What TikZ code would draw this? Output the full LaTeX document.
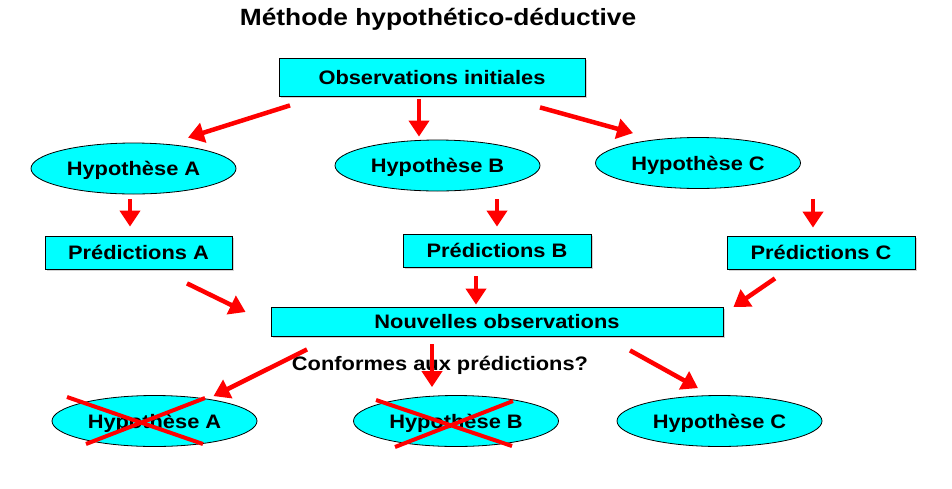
\documentclass[tikz,border=0pt]{standalone}
\usepackage{fontspec}
\setmainfont{Liberation Sans}[FakeStretch=1.12]
\usetikzlibrary{arrows.meta}
\usetikzlibrary{calc}
\usetikzlibrary{shapes.geometric}
\usetikzlibrary{shadows}

\definecolor{aquafill}{RGB}{0,255,255}

\tikzset{
  labeltext/.style={inner sep=0pt, text height=14pt, text depth=0pt,
    font=\fontsize{19.5}{23}\selectfont\bfseries},
  obsbox/.style={labeltext, rectangle, draw=black, line width=0.8pt, fill=aquafill,
    drop shadow={shadow xshift=1.5pt, shadow yshift=-1.5pt, fill=black!35}},
  hypell/.style={labeltext, ellipse, draw=black, line width=0.8pt, fill=aquafill,
    minimum width=205pt, minimum height=51pt},
  redarrow/.style={draw=red, line width=4.5pt, -{Triangle[length=16pt, width=20pt]}},
  crossline/.style={draw=red, line width=4pt}
}

\begin{document}
\begin{tikzpicture}[x=1pt, y=-1pt]
    \useasboundingbox (0,0) rectangle (952,488);

    \node[inner sep=0pt, text height=16.8pt, text depth=0pt, font=\fontsize{23.5}{27}\selectfont\bfseries] (title) at (438,17) {Méthode hypothético-déductive};

    \node[obsbox, minimum width=306pt, minimum height=38pt] (obs) at (432,77) {Observations initiales};

    \node[hypell] (hypA) at (133.5,168.5) {Hypothèse A};
    \node[hypell] (hypB) at (437.5,165.5) {Hypothèse B};
    \node[hypell] (hypC) at (698,163) {Hypothèse C};

    \node[obsbox, minimum width=187pt, minimum height=33pt] (predA) at (138.5,252.5) {Prédictions A};
    \node[obsbox, minimum width=188pt, minimum height=33pt] (predB) at (497,250.5) {Prédictions B};
    \node[obsbox, minimum width=188pt, minimum height=33pt] (predC) at (821,252.5) {Prédictions C};

    \node[obsbox, minimum width=452pt, minimum height=29pt] (newobs) at (497,321.5) {Nouvelles observations};
    \node[labeltext] (conf) at (440,363.7) {Conformes aux prédictions?};

    \node[hypell] (resA) at (154.5,421) {Hypothèse A};
    \node[hypell] (resB) at (456,421) {Hypothèse B};
    \node[hypell] (resC) at (719.5,421) {Hypothèse C};

    % rejected hypotheses
    \draw[crossline] ($(resA)+(-87.5,-24)$) -- ($(resA)+(48.5,23)$);
    \draw[crossline] ($(resA)+(-68.5,23)$) -- ($(resA)+(50.5,-23)$);
    \draw[crossline] ($(resB)+(-80,-21)$) -- ($(resB)+(56,25)$);
    \draw[crossline] ($(resB)+(-61,26)$) -- ($(resB)+(57,-20)$);

    \draw[redarrow] ($(obs.south)+(-142,9)$) -- ($(hypA.north)+(54.5,-5)$);
    \draw[redarrow] ($(obs.south)+(-13,3)$) -- ($(hypB.north)+(-18.5,-3)$);
    \draw[redarrow] ($(obs.south)+(108,11)$) -- ($(hypC.north)+(-65,-4)$);

    \draw[redarrow] ($(hypA.south)+(-3.5,5)$) -- ($(predA.north)+(-8.5,-9)$);
    \draw[redarrow] ($(hypB.south)+(59.5,8)$) -- ($(predB.north)+(0,-7)$);
    \draw[redarrow] ($(hypC.south)+(115,10)$) -- ($(predC.north)+(-8,-8)$);

    \draw[redarrow] ($(predA.south)+(48.5,14)$) -- ($(newobs.west)+(-25,-9.5)$);
    \draw[redarrow] ($(predB.south)+(-21,9)$) -- ($(newobs.north)+(-21,-2)$);
    \draw[redarrow] ($(predC.south)+(-46,9)$) -- ($(newobs.east)+(10,-14.5)$);

    \draw[redarrow] ($(newobs.south)+(-190,13)$) -- ($(resA.north)+(59,1)$);
    \draw[redarrow] ($(newobs.south)+(-65,8)$) -- ($(resB.north)+(-24,-8)$);
    \draw[redarrow] ($(newobs.south)+(133,14)$) -- ($(resC.north)+(-21.5,-7)$);
  \end{tikzpicture}
\end{document}
